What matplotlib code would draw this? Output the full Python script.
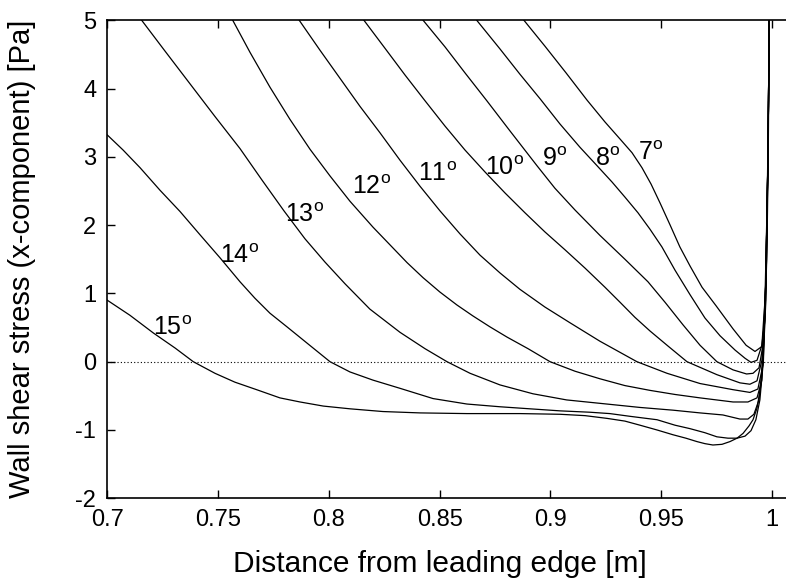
import matplotlib
matplotlib.use('Agg')
import matplotlib.pyplot as plt

plt.rcParams['font.family'] = ['Liberation Sans', 'DejaVu Sans']
plt.rcParams['mathtext.fontset'] = 'custom'
plt.rcParams['mathtext.rm'] = 'Liberation Sans'
plt.rcParams['axes.unicode_minus'] = False

# wall shear stress (x-component) vs distance from leading edge, one curve per angle
x7 = [0.8880, 0.8975, 0.9070, 0.9165, 0.9246, 0.9314, 0.9368, 0.9413, 0.9454, 0.9495, 0.9540, 0.9584,
      0.9630, 0.9684, 0.9747, 0.9824, 0.9883, 0.9923, 0.9953, 0.9968, 0.9977, 0.9983, 0.9987]
y7 = [5.00, 4.62, 4.23, 3.83, 3.51, 3.26, 3.06, 2.84, 2.60, 2.32, 2.00, 1.68,
      1.40, 1.09, 0.82, 0.48, 0.24, 0.15, 0.22, 0.61, 1.64, 3.10, 5.00]

x8 = [0.8667, 0.8772, 0.8862, 0.8953, 0.9043, 0.9133, 0.9210, 0.9278, 0.9336, 0.9395, 0.9449, 0.9503,
      0.9562, 0.9630, 0.9697, 0.9765, 0.9833, 0.9878, 0.9905, 0.9932, 0.9954, 0.9968, 0.9978, 0.9984, 0.9987]
y8 = [5.00, 4.58, 4.21, 3.85, 3.48, 3.14, 2.87, 2.63, 2.41, 2.18, 1.94, 1.68,
      1.34, 0.98, 0.64, 0.38, 0.17, 0.05, -0.01, 0.02, 0.24, 0.90, 2.37, 3.83, 5.00]

x9 = [0.8425, 0.8524, 0.8614, 0.8713, 0.8817, 0.8939, 0.9020, 0.9111, 0.9223, 0.9336, 0.9440, 0.9517,
      0.9598, 0.9675, 0.9751, 0.9824, 0.9885, 0.9914, 0.9941, 0.9959, 0.9972, 0.9982, 0.9987]
y9 = [5.00, 4.61, 4.23, 3.82, 3.38, 2.87, 2.54, 2.22, 1.85, 1.50, 1.17, 0.87,
      0.54, 0.24, 0.00, -0.12, -0.18, -0.17, -0.09, 0.24, 1.20, 3.10, 5.00]

x10 = [0.8158, 0.8253, 0.8343, 0.8434, 0.8524, 0.8614, 0.8704, 0.8795, 0.8885, 0.8975, 0.9065, 0.9156,
       0.9246, 0.9314, 0.9381, 0.9449, 0.9530, 0.9616, 0.9751, 0.9855, 0.9900, 0.9932, 0.9954, 0.9970,
       0.9982, 0.9987]
y10 = [5.00, 4.59, 4.20, 3.82, 3.45, 3.10, 2.78, 2.47, 2.18, 1.90, 1.64, 1.37,
       1.09, 0.87, 0.65, 0.45, 0.23, 0.00, -0.19, -0.31, -0.33, -0.28, 0.02, 0.90,
       3.10, 5.00]

x11 = [0.7866, 0.7960, 0.8050, 0.8140, 0.8231, 0.8321, 0.8411, 0.8501, 0.8592, 0.8682, 0.8772, 0.8862,
       0.8975, 0.9088, 0.9223, 0.9390, 0.9526, 0.9675, 0.9824, 0.9900, 0.9936, 0.9959, 0.9972, 0.9982,
       0.9987]
y11 = [5.00, 4.56, 4.15, 3.74, 3.35, 2.95, 2.57, 2.21, 1.87, 1.56, 1.30, 1.06,
       0.80, 0.57, 0.30, 0.00, -0.17, -0.32, -0.41, -0.45, -0.40, -0.05, 0.90, 3.10,
       5.00]

x12 = [0.7566, 0.7644, 0.7734, 0.7824, 0.7915, 0.8005, 0.8095, 0.8199, 0.8276, 0.8353, 0.8425, 0.8501,
       0.8578, 0.8650, 0.8727, 0.8804, 0.8899, 0.8998, 0.9111, 0.9223, 0.9336, 0.9449, 0.9562, 0.9675,
       0.9824, 0.9891, 0.9932, 0.9954, 0.9970, 0.9982, 0.9987]
y12 = [5.00, 4.53, 4.02, 3.55, 3.11, 2.72, 2.35, 1.97, 1.71, 1.45, 1.23, 1.02,
       0.83, 0.67, 0.51, 0.36, 0.19, 0.00, -0.14, -0.25, -0.35, -0.42, -0.48, -0.53,
       -0.59, -0.59, -0.53, -0.27, 0.90, 3.10, 5.00]

x13 = [0.7155, 0.7260, 0.7373, 0.7486, 0.7599, 0.7698, 0.7797, 0.7892, 0.7982, 0.8073, 0.8185, 0.8321,
       0.8434, 0.8533, 0.8637, 0.8772, 0.8921, 0.9073, 0.9254, 0.9404, 0.9553, 0.9675, 0.9778, 0.9855,
       0.9891, 0.9918, 0.9941, 0.9959, 0.9972, 0.9982, 0.9987]
y13 = [5.00, 4.55, 4.07, 3.59, 3.12, 2.66, 2.21, 1.80, 1.46, 1.14, 0.77, 0.43,
       0.19, 0.00, -0.17, -0.34, -0.47, -0.56, -0.62, -0.67, -0.71, -0.75, -0.78, -0.84,
       -0.84, -0.77, -0.56, 0.02, 1.20, 3.10, 5.00]

x14 = [0.7000, 0.7071, 0.7148, 0.7238, 0.7328, 0.7418, 0.7509, 0.7599, 0.7666, 0.7734, 0.7811, 0.7906,
       0.8005, 0.8095, 0.8199, 0.8321, 0.8470, 0.8623, 0.8772, 0.8907, 0.9043, 0.9178, 0.9268, 0.9359,
       0.9481, 0.9562, 0.9629, 0.9697, 0.9751, 0.9801, 0.9842, 0.9878, 0.9905, 0.9927, 0.9945, 0.9961,
       0.9972, 0.9982, 0.9987]
y14 = [3.32, 3.10, 2.84, 2.51, 2.20, 1.86, 1.52, 1.17, 0.93, 0.71, 0.51, 0.26,
       0.00, -0.15, -0.27, -0.39, -0.54, -0.62, -0.66, -0.69, -0.72, -0.74, -0.76, -0.80,
       -0.85, -0.93, -0.98, -1.04, -1.10, -1.12, -1.12, -1.09, -1.01, -0.85, -0.56, 0.02,
       1.20, 3.10, 5.00]

x15 = [0.7000, 0.7102, 0.7208, 0.7306, 0.7388, 0.7486, 0.7576, 0.7674, 0.7779, 0.7870, 0.7975, 0.8095,
       0.8244, 0.8411, 0.8623, 0.8862, 0.9043, 0.9156, 0.9255, 0.9336, 0.9404, 0.9481, 0.9553, 0.9611,
       0.9661, 0.9697, 0.9733, 0.9774, 0.9810, 0.9842, 0.9869, 0.9896, 0.9914, 0.9932, 0.9950, 0.9963,
       0.9975, 0.9982, 0.9987]
y15 = [0.90, 0.68, 0.42, 0.20, 0.00, -0.17, -0.30, -0.41, -0.53, -0.59, -0.65, -0.69,
       -0.73, -0.75, -0.76, -0.76, -0.77, -0.79, -0.83, -0.87, -0.93, -1.00, -1.07, -1.12,
       -1.17, -1.20, -1.22, -1.21, -1.17, -1.12, -1.05, -0.94, -0.85, -0.68, -0.34, 0.32,
       1.49, 3.10, 5.00]

angles = [7, 8, 9, 10, 11, 12, 13, 14, 15]
xs = [x7, x8, x9, x10, x11, x12, x13, x14, x15]
ys = [y7, y8, y9, y10, y11, y12, y13, y14, y15]

# where the angle labels sit (left edge, baseline)
label_x = [0.9396, 0.9201, 0.8960, 0.8704, 0.8403, 0.8103, 0.7802, 0.7509, 0.7208]
label_y = [2.95, 2.86, 2.86, 2.74, 2.64, 2.46, 2.04, 1.44, 0.39]

xticks = [0.7, 0.75, 0.8, 0.85, 0.9, 0.95, 1.0]
xtick_labels = ['0.7', '0.75', '0.8', '0.85', '0.9', '0.95', '1']
yticks = [-2, -1, 0, 1, 2, 3, 4, 5]

fig = plt.figure(figsize=(7.86, 5.86), dpi=100)
ax = fig.add_axes([0.1365, 0.1497, 0.8641, 0.8158])

ax.axhline(0, color='black', lw=0.8, ls=(0, (1, 2)))
for x, y in zip(xs, ys):
    ax.plot(x, y, color='black', lw=0.9)

for a, lx, ly in zip(angles, label_x, label_y):
    ax.text(lx, ly, str(a) + r'$^{\mathregular{o}}$', fontsize=18, ha='left', va='baseline')

ax.set_xlim(0.7, 1.0065)
ax.set_ylim(-2, 5)
ax.set_xticks(xticks)
ax.set_xticklabels(xtick_labels)
ax.set_yticks(yticks)
ax.tick_params(direction='in', length=6, width=1, labelsize=17, top=True, right=False, pad=8)
for side in ['left', 'bottom', 'top']:
    ax.spines[side].set_linewidth(1.2)
ax.spines['right'].set_visible(False)

ax.set_xlabel('Distance from leading edge [m]', fontsize=21.5, va='center')
ax.set_ylabel('Wall shear stress (x-component) [Pa]', fontsize=21, va='center')
ax.xaxis.set_label_coords(0.489, -0.138)
ax.yaxis.set_label_coords(-0.1256, 0.5)

fig.savefig('out.png', dpi=100)
